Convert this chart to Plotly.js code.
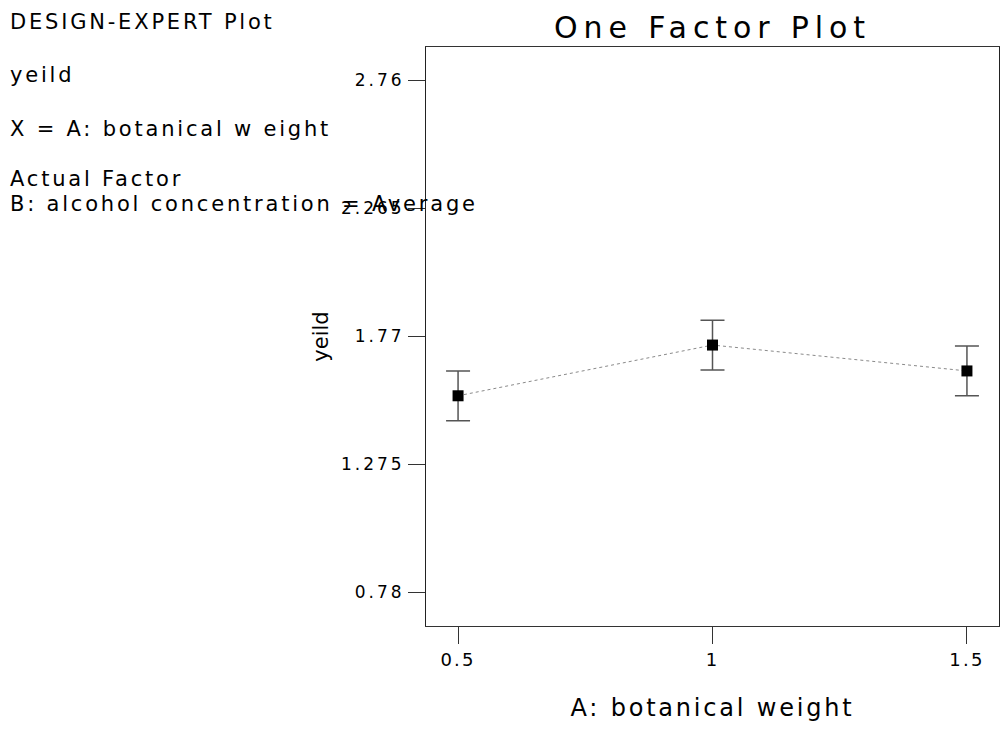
<!DOCTYPE html>
<html>
<head>
<meta charset="utf-8">
<script src="https://cdn.plot.ly/plotly-3.0.1.min.js"></script>
<style>
  html, body { margin: 0; padding: 0; background: #fff; }
  #chart { width: 1000px; height: 746px; }
  /* wide, slightly letter-spaced lettering of the plot texts */
  .gtitle { letter-spacing: 5.9px; }
  .xtitle { letter-spacing: 2.8px; }
  .ytick text { letter-spacing: 3px; }
  .xtick text { letter-spacing: 2.2px; }
  .annotation-text { letter-spacing: 2.8px; }
</style>
</head>
<body>
<div id="chart"></div>
<script>
// Factor A levels (botanical weight) and predicted yield with error half-widths
const botanicalWeight = [0.5, 1, 1.5];
const yieldMean = [1.540, 1.736, 1.636];
const yieldErr = [0.096, 0.096, 0.096];

const xTickVals = [0.5, 1, 1.5];
const xTickText = ['0.5', '1', '1.5'];
const yTickVals = [0.78, 1.275, 1.77, 2.265, 2.76];
const yTickText = ['0.78', '1.275', '1.77', '2.265', '2.76'];

const infoLines = [
  'DESIGN-EXPERT Plot',
  'yeild',
  'X = A: botanical w eight',
  'Actual Factor',
  'B: alcohol concentration = Average'
];

const W = 1000, H = 746;
const M = { l: 426, r: 1, t: 47, b: 120 };
const plotW = W - M.l - M.r, plotH = H - M.t - M.b;
// pixel -> paper helpers for the side notes
const px2x = px => (px - M.l) / plotW;
const py2y = py => (H - M.b - py) / plotH;
const lineCenters = [22.5, 75.5, 129.5, 179.5, 204.5];

const FONT = 'DejaVu Sans, Liberation Sans, Arial, sans-serif';

const trace = {
  type: 'scatter',
  mode: 'lines+markers',
  x: botanicalWeight,
  y: yieldMean,
  line: { color: '#8a8a8a', width: 1, dash: 'dot' },
  marker: { symbol: 'square', size: 11, color: '#000' },
  error_y: {
    type: 'data', array: yieldErr, visible: true,
    color: '#555', thickness: 1.5, width: 12
  },
  hoverinfo: 'x+y'
};

const annotations = infoLines.map((t, i) => ({
  text: t,
  xref: 'paper', yref: 'paper',
  x: px2x(8), y: py2y(lineCenters[i]),
  xanchor: 'left', yanchor: 'middle',
  showarrow: false,
  font: { family: FONT, size: 21, color: '#000' }
}));

const layout = {
  width: W, height: H,
  margin: M,
  paper_bgcolor: '#fff',
  plot_bgcolor: '#fff',
  showlegend: false,
  title: {
    text: 'One Factor Plot',
    font: { family: FONT, size: 30, color: '#000' },
    xref: 'paper', x: 0.5, xanchor: 'center',
    yref: 'paper', y: 1, yanchor: 'bottom',
    pad: { b: 9 }
  },
  xaxis: {
    range: [0.437, 1.563],
    tickmode: 'array', tickvals: xTickVals, ticktext: xTickText,
    ticks: 'outside', ticklen: 17, tickwidth: 1, tickcolor: '#333',
    showgrid: false, zeroline: false,
    showline: true, linecolor: '#333', linewidth: 1, mirror: true,
    tickfont: { family: FONT, size: 18, color: '#000' },
    title: { text: 'A: botanical weight', font: { family: FONT, size: 24, color: '#000' }, standoff: 30 }
  },
  yaxis: {
    range: [0.6505, 2.8876],
    tickmode: 'array', tickvals: yTickVals, ticktext: yTickText,
    ticks: 'outside', ticklen: 17, tickwidth: 1, tickcolor: '#333',
    showgrid: false, zeroline: false,
    showline: true, linecolor: '#222', linewidth: 1, mirror: true,
    tickfont: { family: FONT, size: 17, color: '#000' },
    title: { text: 'yeild', font: { family: FONT, size: 21, color: '#000' }, standoff: 6 }
  },
  annotations: annotations
};

Plotly.newPlot('chart', [trace], layout, { displayModeBar: false, staticPlot: true });
</script>
</body>
</html>
